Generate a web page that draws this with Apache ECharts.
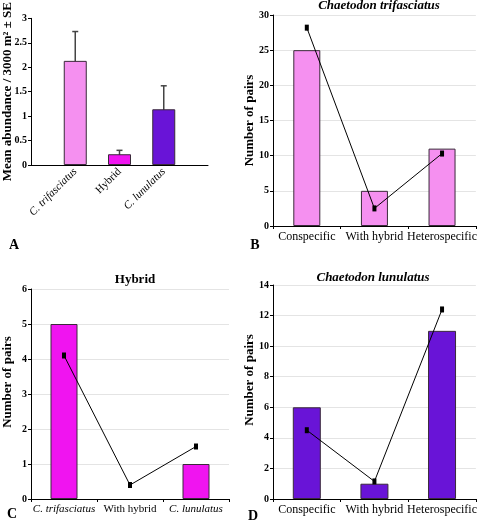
<!DOCTYPE html>
<html><head><meta charset="utf-8">
<script src="https://cdn.jsdelivr.net/npm/echarts@6/dist/echarts.min.js"></script>
<style>html,body{margin:0;padding:0;background:#fff}#c{width:480px;height:520px}</style>
</head><body><div id="c"></div>
<script>
// Panel A
const catsA = ['C. trifasciatus', 'Hybrid', 'C. lunulatus'];
const meanA = [2.13, 0.22, 1.14];
const seA = [0.60, 0.08, 0.48];
// Panel B (Chaetodon trifasciatus)
const catsB = ['Conspecific', 'With hybrid', 'Heterospecific'];
const obsB = [25, 5, 11];
const expB = [28.2, 2.5, 10.3];
// Panel C (Hybrid)
const catsC = ['C. trifasciatus', 'With hybrid', 'C. lunulatus'];
const obsC = [5, 0, 1];
const expC = [4.1, 0.4, 1.5];
// Panel D (Chaetodon lunulatus)
const catsD = ['Conspecific', 'With hybrid', 'Heterospecific'];
const obsD = [6, 1, 11];
const expD = [4.5, 1.15, 12.4];

const PINK = '#f590f0', MAG = '#f014f0', PURP = '#6914d7';
const SERIF = '"Liberation Serif", "DejaVu Serif", serif';
const italicCats = ['C. trifasciatus', 'C. lunulatus'];

function fmtCat(v) {
  if (!v) return '';
  return italicCats.indexOf(v) >= 0 ? '{i|' + v + '}' : '{n|' + v + '}';
}
function richLbl(size) {
  return {
    i: {fontFamily: SERIF, fontStyle: 'italic', fontSize: size, color: '#000'},
    n: {fontFamily: SERIF, fontSize: size, color: '#000'}
  };
}

function yAx(idx, max, interval, name, nameGap, grid, pad) {
  return {
    type: 'value', gridIndex: idx, min: 0, max: max, interval: interval,
    name: name, nameLocation: 'middle', nameGap: nameGap, nameMoveOverlap: false,
    nameTextStyle: {fontFamily: SERIF, fontWeight: 'bold', fontSize: 13, color: '#000', padding: pad},
    axisLine: {show: true, lineStyle: {color: '#000', width: 1}},
    axisTick: {show: true, length: 3, lineStyle: {color: '#000'}},
    axisLabel: {fontFamily: SERIF, fontWeight: 'bold', fontSize: 10, color: '#000', margin: 4,
      hideOverlap: false, showMinLabel: true, showMaxLabel: true},
    splitLine: {show: grid, lineStyle: {color: '#e4e4e4', width: 1}}
  };
}
function xAx(idx, cats, size) {
  return {
    type: 'category', gridIndex: idx, data: cats,
    axisLine: {lineStyle: {color: '#000', width: 1}},
    axisTick: {show: true, length: 3, lineStyle: {color: '#000'}},
    axisLabel: {formatter: fmtCat, rich: richLbl(size), margin: 5, interval: 0, hideOverlap: false}
  };
}

const padCatsA = [''].concat(catsA, ['']);
const padMeanA = [null].concat(meanA, [null]);
const errA = catsA.map((c, i) => [i + 1, meanA[i] - seA[i], meanA[i] + seA[i]]);
const barBorder = {borderColor: '#3a2a3a', borderWidth: 1};
const noZero = v => (v === 0 ? '-' : v);

const chart = echarts.init(document.getElementById('c'), null, {renderer: 'canvas'});
chart.setOption({
  animation: false,
  grid: [
    {left: 30, top: 15, width: 178, height: 150},
    {left: 273, top: 15, width: 203, height: 211},
    {left: 31, top: 289, width: 198, height: 210},
    {left: 273, top: 285, width: 203, height: 214}
  ],
  xAxis: [
    {
      type: 'category', gridIndex: 0, data: padCatsA, boundaryGap: false,
      axisLine: {lineStyle: {color: '#000', width: 1}},
      axisTick: {show: false},
      axisLabel: {formatter: fmtCat, rich: richLbl(11), rotate: 45, margin: 5, interval: 0, hideOverlap: false}
    },
    xAx(1, catsB, 12), xAx(2, catsC, 11), xAx(3, catsD, 12)
  ],
  yAxis: [
    yAx(0, 3, 0.5, 'Mean abundance / 3000 m\u00b2 \u00b1 SE', 17, false, [0, 0, 0, 0]),
    yAx(1, 30, 5, 'Number of pairs', 17, true, [0, 0, 0, 0]),
    yAx(2, 6, 1, 'Number of pairs', 17, true, [0, 0, 0, 24]),
    yAx(3, 14, 2, 'Number of pairs', 17, true, [0, 0, 0, 24])
  ],
  series: [
    {
      type: 'bar', xAxisIndex: 0, yAxisIndex: 0, barWidth: 23,
      data: padMeanA.map((v, i) => v === null ? null : {
        value: v, itemStyle: Object.assign({color: [PINK, MAG, PURP][i - 1]}, barBorder)
      })
    },
    {
      type: 'custom', xAxisIndex: 0, yAxisIndex: 0, data: errA,
      encode: {x: 0, y: [1, 2]},
      renderItem: function (params, api) {
        const x = api.value(0);
        const lo = api.coord([x, api.value(1)]);
        const hi = api.coord([x, api.value(2)]);
        const st = {stroke: '#444', lineWidth: 1.5};
        const w = 3;
        return {type: 'group', children: [
          {type: 'line', shape: {x1: lo[0], y1: lo[1], x2: hi[0], y2: hi[1]}, style: st},
          {type: 'line', shape: {x1: lo[0] - w, y1: lo[1], x2: lo[0] + w, y2: lo[1]}, style: st},
          {type: 'line', shape: {x1: hi[0] - w, y1: hi[1], x2: hi[0] + w, y2: hi[1]}, style: st}
        ]};
      }
    },
    {type: 'bar', xAxisIndex: 1, yAxisIndex: 1, barWidth: 27, data: obsB.map(noZero),
      itemStyle: Object.assign({color: PINK}, barBorder)},
    {type: 'line', xAxisIndex: 1, yAxisIndex: 1, data: expB, symbol: 'rect', symbolSize: [4, 6],
      itemStyle: {color: '#000'}, lineStyle: {color: '#000', width: 1}},
    {type: 'bar', xAxisIndex: 2, yAxisIndex: 2, barWidth: 27, data: obsC.map(noZero),
      itemStyle: Object.assign({color: MAG}, barBorder)},
    {type: 'line', xAxisIndex: 2, yAxisIndex: 2, data: expC, symbol: 'rect', symbolSize: [4, 6],
      itemStyle: {color: '#000'}, lineStyle: {color: '#000', width: 1}},
    {type: 'bar', xAxisIndex: 3, yAxisIndex: 3, barWidth: 28, data: obsD.map(noZero),
      itemStyle: Object.assign({color: PURP}, barBorder)},
    {type: 'line', xAxisIndex: 3, yAxisIndex: 3, data: expD, symbol: 'rect', symbolSize: [4, 6],
      itemStyle: {color: '#000'}, lineStyle: {color: '#000', width: 1}}
  ],
  graphic: [
    {type: 'text', x: 379, y: 6, style: {text: 'Chaetodon trifasciatus', align: 'center', verticalAlign: 'middle', font: 'italic bold 13px ' + SERIF, fill: '#000'}},
    {type: 'text', x: 135, y: 280, style: {text: 'Hybrid', align: 'center', verticalAlign: 'middle', font: 'bold 13px ' + SERIF, fill: '#000'}},
    {type: 'text', x: 373, y: 278, style: {text: 'Chaetodon lunulatus', align: 'center', verticalAlign: 'middle', font: 'italic bold 13px ' + SERIF, fill: '#000'}},
    {type: 'text', x: 14, y: 245, style: {text: 'A', align: 'center', verticalAlign: 'middle', font: 'bold 14px ' + SERIF, fill: '#000'}},
    {type: 'text', x: 255, y: 245, style: {text: 'B', align: 'center', verticalAlign: 'middle', font: 'bold 14px ' + SERIF, fill: '#000'}},
    {type: 'text', x: 12, y: 514, style: {text: 'C', align: 'center', verticalAlign: 'middle', font: 'bold 14px ' + SERIF, fill: '#000'}},
    {type: 'text', x: 253, y: 516, style: {text: 'D', align: 'center', verticalAlign: 'middle', font: 'bold 14px ' + SERIF, fill: '#000'}}
  ]
});
</script></body></html>
